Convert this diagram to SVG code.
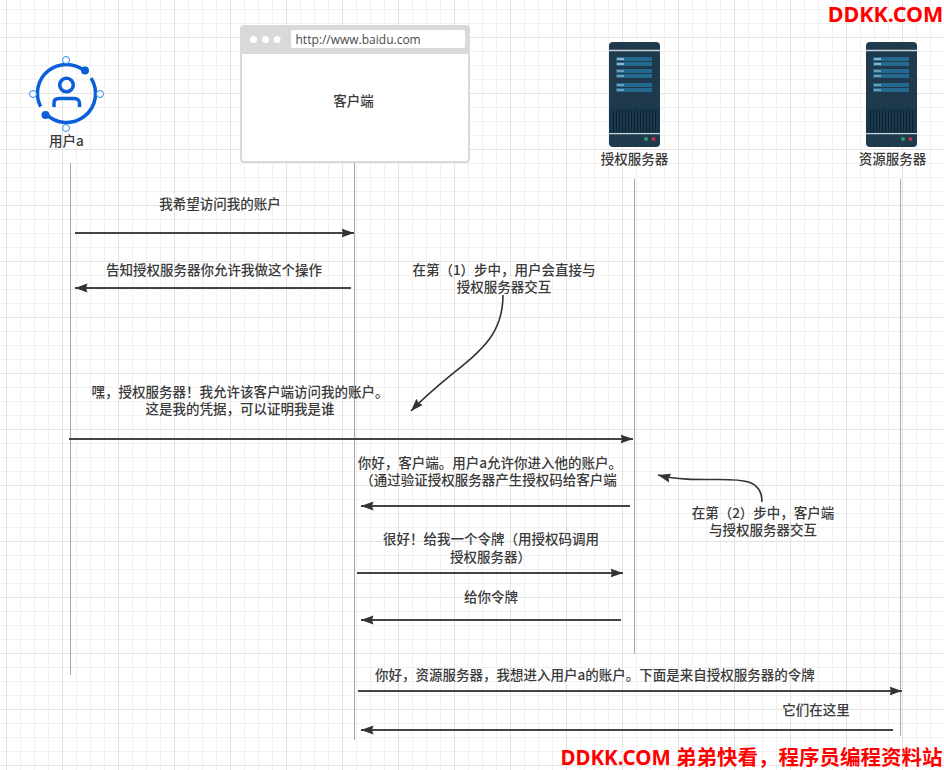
<svg xmlns="http://www.w3.org/2000/svg" width="944" height="770" viewBox="0 0 944 770">
<style>
text{font-family:"Noto Sans CJK SC","Liberation Sans",sans-serif;font-size:13.5px;font-weight:500;fill:#3a3a3a;text-anchor:middle}
.life{stroke:#a6a6a6;stroke-width:1;fill:none}
.msg{stroke:#444;stroke-width:2;fill:none}
.cur{stroke:#333;stroke-width:1.6;fill:none}
text.wm{fill:#f00;font-weight:700;font-family:"Noto Sans","Noto Sans CJK SC",sans-serif}
text.w1{font-size:21.5px}
text.w2{font-size:20.5px}
.anchor{fill:#fff;stroke:#2a8cf0;stroke-width:1}
</style>
<defs>
<pattern id="g" x="6" y="37" width="56" height="56" patternUnits="userSpaceOnUse">
<path d="M14.500 0V56M28.500 0V56M42.500 0V56M0 14.500H56M0 28.500H56M0 42.500H56" stroke="#f1f1f1" stroke-width="1" fill="none"/>
<path d="M0.500 0V56M0 0.500H56" stroke="#e3e3e3" stroke-width="1" fill="none"/>
</pattern>
<marker id="a" markerUnits="userSpaceOnUse" markerWidth="13" markerHeight="11" refX="12.500" refY="5.500" orient="auto-start-reverse"><path d="M0 1L12.500 5.500L0 10L1.500 5.500Z" fill="#333"/></marker>
<g id="srv">
<rect x="0" y="0" width="51" height="105" rx="4" fill="#1f3a4d"/>
<path d="M0 8.500H51M0 91.500H51" stroke="#c9d3da" stroke-width="1.4"/>
<rect x="0" y="66" width="51" height="25" fill="#15364b"/>
<rect x="4" y="68" width="43" height="22" fill="#0c2233"/>
<path d="M6 68V90M9 68V90M12 68V90M15 68V90M18 68V90M21 68V90M24 68V90M27 68V90M30 68V90M33 68V90M36 68V90M39 68V90M42 68V90M45 68V90" stroke="#2d4f66" stroke-width="1"/>
<path d="M7 15h36v4h-36zM7 20h36v4h-36zM7 27h36v4h-36zM7 32h36v4h-36zM7 41h36v4h-36zM7 46h36v4h-36z" fill="#24698f"/>
<path d="M8 17h7M8 22h7" stroke="#fff" stroke-width="1"/>
<path d="M8 29h7M8 34h7M8 43h7M8 48h7" stroke="#b9d3e2" stroke-width="1.2"/>
<circle cx="37" cy="97" r="2" fill="#2d9a77"/><circle cx="44.500" cy="97" r="2" fill="#c2334f"/>
</g>
</defs>
<rect width="944" height="770" fill="#fff"/>
<rect width="944" height="770" fill="url(#g)"/>

<g id="connectors">
<path class="life" d="M70.500 163V675"/>
<path class="life" d="M354.500 163V740"/>
<path class="life" d="M634.500 179V654"/>
<path class="life" d="M900.500 179V736"/>
<path class="msg" marker-end="url(#a)" d="M75 233H354"/>
<path class="msg" marker-end="url(#a)" d="M351 288H75"/>
<path class="msg" marker-end="url(#a)" d="M69 439H633"/>
<path class="msg" marker-end="url(#a)" d="M630 506H361"/>
<path class="msg" marker-end="url(#a)" d="M357 573H623"/>
<path class="msg" marker-end="url(#a)" d="M621 620H361"/>
<path class="msg" marker-end="url(#a)" d="M358 691H902"/>
<path class="msg" marker-end="url(#a)" d="M893 730H361"/>
<path class="cur" marker-end="url(#a)" d="M503 295C503 350 460 360 411 411"/>
<path class="cur" marker-end="url(#a)" d="M762 502C762 465 710 488 658 475"/>
</g>

<g id="user-a">
<g fill="none" stroke="#0a5fd9" stroke-width="3.500">
<path d="M40.600 106.600A29 29 0 0 1 84.600 70.800"/>
<path d="M91.100 78.100A29 29 0 0 1 46 114"/>
<circle cx="66.500" cy="85" r="6.800"/>
<path d="M54 107V103C54 100 56 98.500 59 98.500H74C77 98.500 79.500 100 79.500 103V107"/>
</g>
<circle cx="85" cy="70.500" r="4" fill="#0a5fd9"/>
<circle cx="45.500" cy="115" r="4" fill="#0a5fd9"/>
<circle class="anchor" cx="66" cy="60" r="3.500"/>
<circle class="anchor" cx="66" cy="128" r="3.500"/>
<circle class="anchor" cx="33" cy="94" r="3.500"/>
<circle class="anchor" cx="100" cy="94" r="3.500"/>
<text x="66.500" y="146">用户a</text>
</g>

<g id="client">
<rect x="241" y="26" width="228" height="136" rx="3" fill="#fff" stroke="#d9d9d9" stroke-width="2"/>
<path d="M241 29a3 3 0 0 1 3-3H466a3 3 0 0 1 3 3V54H241Z" fill="#d9d9d9"/>
<circle cx="253.500" cy="39.500" r="3.500" fill="#fff"/><circle cx="265.500" cy="39.500" r="3.500" fill="#fff"/><circle cx="277" cy="39.500" r="3.500" fill="#fff"/>
<rect x="291" y="30" width="174" height="18" rx="2" fill="#fff"/>
<text x="295.500" y="44" style="text-anchor:start;font-family:'Open Sans','Liberation Sans',sans-serif;font-size:12px;font-weight:400;fill:#4a4a4a">http://www.baidu.com</text>
<text x="353.500" y="106">客户端</text>
</g>

<g id="auth-server">
<use href="#srv" x="609" y="42"/>
<text x="634.500" y="164">授权服务器</text>
</g>
<g id="resource-server">
<use href="#srv" x="866" y="42"/>
<text x="892.500" y="164">资源服务器</text>
</g>

<g id="labels">
<text x="220" y="209">我希望访问我的账户</text>
<text x="214" y="275">告知授权服务器你允许我做这个操作</text>
<text x="504" y="275">在第（1）步中，用户会直接与</text>
<text x="504" y="292">授权服务器交互</text>
<text x="240" y="397">嘿，授权服务器！我允许该客户端访问我的账户。</text>
<text x="240" y="414">这是我的凭据，可以证明我是谁</text>
<text x="490" y="468">你好，客户端。用户a允许你进入他的账户。</text>
<text x="488.500" y="485">（通过验证授权服务器产生授权码给客户端</text>
<text x="491" y="544">很好！给我一个令牌（用授权码调用</text>
<text x="490.500" y="562">授权服务器）</text>
<text x="491" y="602">给你令牌</text>
<text x="763" y="518">在第（2）步中，客户端</text>
<text x="763" y="535">与授权服务器交互</text>
<text x="595" y="680">你好，资源服务器，我想进入用户a的账户。下面是来自授权服务器的令牌</text>
<text x="816" y="715">它们在这里</text>
</g>

<g id="watermark">
<text class="wm w1" x="885.500" y="22">DDKK.COM</text>
<text class="wm w2" x="751.500" y="765">DDKK.COM 弟弟快看，程序员编程资料站</text>
</g>
</svg>
